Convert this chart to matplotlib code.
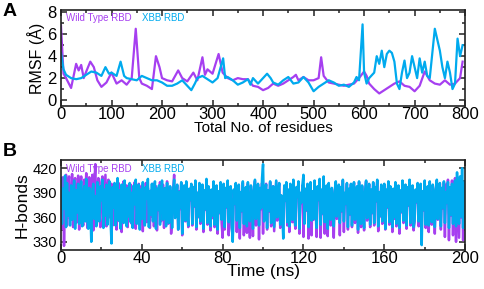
import numpy as np
import matplotlib
matplotlib.use("Agg")
import matplotlib.pyplot as plt
from matplotlib.ticker import MultipleLocator

plt.rcParams['font.family'] = ['Liberation Sans', 'DejaVu Sans']

purple = '#a63ff0'
cyan = '#00aaee'

# ---- panel A: RMSF per residue ----
res_wt = [0, 5, 10, 20, 30, 35, 40, 45, 50, 58, 65, 72, 80, 90, 100, 110, 120, 130, 140,
          148, 155, 160, 170, 180, 188, 195, 200, 210, 220, 232, 240, 250, 262, 270, 280,
          285, 290, 300, 312, 320, 330, 340, 350, 360, 370, 380, 390, 400, 410, 420, 430,
          440, 450, 460, 465, 470, 480, 490, 500, 510, 515, 520, 530, 540, 550, 560, 570,
          580, 590, 600, 605, 610, 620, 630, 640, 650, 660, 670, 680, 690, 700, 710, 720,
          730, 740, 750, 760, 770, 780, 790, 795]
rmsf_wt = [6.8, 2.4, 2.0, 1.1, 3.3, 2.7, 3.2, 2.0, 2.6, 3.5, 3.0, 1.8, 1.2, 1.6, 2.5, 1.5,
           1.8, 1.4, 2.0, 6.5, 2.0, 1.5, 1.3, 1.0, 4.0, 3.0, 2.0, 1.8, 1.7, 2.7, 2.0, 1.7,
           2.5, 1.8, 3.9, 2.3, 2.8, 2.4, 4.2, 2.5, 2.0, 1.8, 2.0, 1.9, 1.9, 1.3, 1.2, 0.9,
           1.1, 1.5, 1.3, 1.5, 1.8, 2.1, 2.3, 1.8, 2.1, 1.8, 1.8, 2.0, 3.9, 2.2, 1.6, 1.5,
           1.4, 1.3, 1.4, 1.5, 2.0, 2.6, 2.2, 1.5, 1.0, 0.6, 0.9, 1.2, 1.5, 1.7, 1.3, 1.2,
           0.8, 1.3, 2.6, 1.8, 1.5, 1.4, 1.8, 1.4, 1.5, 2.0, 3.5]

res_xbb = [0, 5, 10, 20, 30, 40, 50, 60, 70, 80, 88, 95, 100, 110, 118, 125, 130, 140, 150,
           160, 170, 180, 190, 200, 210, 220, 230, 240, 250, 258, 265, 270, 280, 290, 300,
           310, 321, 325, 330, 340, 350, 360, 370, 375, 380, 390, 400, 408, 415, 420, 430,
           440, 450, 460, 470, 480, 490, 500, 510, 520, 530, 540, 550, 560, 570, 580, 585,
           590, 597, 600, 605, 610, 620, 625, 630, 635, 640, 645, 650, 655, 660, 665, 670,
           675, 680, 685, 690, 695, 700, 705, 710, 715, 720, 725, 730, 740, 745, 750, 755,
           760, 765, 770, 775, 780, 785, 790, 795]
rmsf_xbb = [4.3, 2.8, 2.3, 2.0, 1.9, 2.0, 2.3, 2.6, 2.5, 2.2, 3.0, 2.4, 2.5, 2.2, 3.5, 2.2,
            2.0, 1.9, 1.8, 2.2, 2.0, 1.8, 1.8, 1.6, 1.3, 1.3, 1.5, 1.8, 1.3, 0.9, 1.5, 2.0,
            2.2, 1.9, 1.6, 2.0, 3.8, 2.0, 2.1, 1.8, 1.4, 1.6, 1.9, 1.4, 2.0, 1.5, 2.0, 2.4,
            2.0, 1.6, 1.4, 1.8, 2.1, 1.5, 1.6, 2.1, 1.6, 0.8, 1.2, 1.5, 1.8, 1.6, 1.3, 1.4,
            1.2, 1.6, 2.1, 1.8, 6.9, 2.5, 1.5, 2.0, 2.5, 4.0, 3.3, 4.5, 3.0, 4.2, 4.5, 4.3,
            3.5, 1.5, 1.0, 2.5, 3.6, 2.0, 2.5, 4.0, 3.0, 2.0, 3.8, 2.5, 3.5, 2.2, 2.0, 6.5,
            5.5, 4.5, 3.0, 2.0, 3.5, 2.5, 1.0, 1.5, 5.6, 4.0, 5.0]

# ---- panel B: H-bonds vs time (0.5 ns steps) ----
hb_xbb = [408, 352, 395, 371, 411, 348, 402, 362, 390, 350,
          399, 357, 384, 405, 346, 393, 366, 401, 352, 388,
          404, 349, 379, 398, 355, 407, 360, 346, 396, 374,
          330, 392, 401, 358, 386, 349, 403, 368, 355, 398,
          381, 406, 347, 394, 362, 400, 351, 389, 404, 359,
          328, 397, 372, 402, 350, 385, 408, 356, 393, 346,
          400, 367, 353, 405, 381, 349, 396, 361, 402, 354,
          390, 347, 399, 376, 406, 352, 384, 400, 345, 394,
          358, 403, 370, 350, 397, 383, 407, 348, 392, 363,
          401, 355, 387, 404, 346, 395, 369, 399, 351, 386,
          405, 357, 378, 396, 349, 402, 364, 353, 398, 380,
          347, 393, 406, 359, 385, 400, 345, 391, 372, 403,
          340, 388, 399, 356, 404, 367, 350, 395, 382, 401,
          352, 397, 374, 405, 348, 390, 361, 402, 355, 384,
          400, 346, 393, 370, 407, 353, 398, 379, 349, 394,
          362, 404, 351, 387, 399, 345, 392, 366, 403, 357,
          383, 401, 348, 396, 373, 405, 354, 389, 398, 350,
          330, 394, 377, 402, 356, 385, 400, 347, 391, 368,
          404, 352, 380, 397, 349, 403, 363, 355, 399, 386,
          346, 392, 406, 358, 384, 401, 350, 396, 371, 408,
          425, 355, 389, 400, 347, 393, 368, 404, 353, 385,
          398, 348, 376, 405, 360, 391, 402, 351, 387, 366,
          334, 399, 381, 403, 354, 394, 349, 401, 372, 357,
          406, 363, 350, 397, 385, 404, 346, 390, 378, 400,
          412, 352, 395, 369, 401, 348, 386, 403, 356, 392,
          358, 405, 374, 347, 398, 382, 407, 351, 394, 365,
          410, 354, 388, 399, 346, 402, 371, 357, 396, 380,
          349, 393, 404, 361, 386, 400, 353, 397, 368, 406,
          355, 390, 377, 402, 348, 395, 364, 401, 350, 387,
          403, 357, 383, 398, 345, 404, 370, 352, 399, 376,
          347, 392, 405, 359, 388, 401, 351, 394, 366, 403,
          353, 397, 380, 406, 349, 391, 362, 400, 355, 385,
          401, 346, 394, 373, 404, 354, 398, 381, 348, 395,
          360, 403, 352, 389, 399, 347, 393, 367, 405, 356,
          384, 400, 350, 397, 375, 406, 353, 390, 399, 348,
          357, 394, 379, 402, 355, 386, 401, 326, 392, 369,
          405, 351, 382, 398, 350, 404, 365, 354, 400, 387,
          348, 393, 406, 358, 385, 402, 349, 396, 372, 404,
          353, 391, 378, 403, 347, 397, 363, 401, 352, 386,
          405, 349, 415, 370, 352, 410, 361, 420, 347, 398,
          404]
hb_wt = [402, 346, 409, 325, 388, 412, 350, 397, 410, 358,
         374, 413, 348, 399, 408, 353, 386, 411, 345, 395,
         410, 362, 350, 406, 381, 414, 347, 392, 409, 356,
         379, 412, 344, 400, 425, 352, 391, 408, 366, 348,
         403, 410, 355, 385, 412, 349, 397, 406, 360, 378,
         401, 350, 393, 369, 398, 345, 387, 402, 355, 396,
         342, 390, 404, 361, 383, 399, 348, 394, 371, 400,
         352, 397, 376, 403, 346, 389, 365, 401, 350, 384,
         399, 343, 392, 371, 402, 354, 396, 380, 347, 393,
         361, 401, 349, 386, 398, 344, 390, 368, 403, 355,
         382, 400, 347, 395, 372, 404, 352, 388, 397, 340,
         356, 393, 412, 361, 384, 399, 345, 392, 370, 402,
         338, 389, 398, 355, 401, 366, 348, 394, 381, 400,
         350, 396, 373, 403, 345, 390, 360, 401, 352, 383,
         399, 342, 392, 369, 404, 351, 397, 378, 344, 393,
         359, 402, 348, 386, 398, 340, 391, 365, 401, 353,
         335, 400, 345, 394, 372, 403, 338, 388, 397, 347,
         336, 392, 376, 401, 342, 384, 399, 334, 390, 367,
         402, 338, 379, 396, 341, 401, 362, 335, 398, 385,
         337, 391, 404, 350, 383, 400, 333, 395, 370, 402,
         340, 397, 388, 401, 345, 392, 367, 403, 349, 384,
         398, 343, 375, 404, 356, 390, 401, 347, 386, 365,
         345, 398, 380, 402, 350, 393, 342, 400, 371, 354,
         404, 359, 346, 396, 384, 403, 340, 389, 377, 399,
         336, 392, 394, 368, 400, 334, 385, 402, 338, 391,
         357, 404, 373, 336, 397, 381, 406, 335, 393, 364,
         401, 340, 387, 398, 337, 401, 370, 350, 395, 379,
         335, 392, 403, 358, 385, 399, 338, 396, 367, 405,
         342, 389, 376, 401, 345, 394, 363, 400, 348, 386,
         402, 353, 382, 397, 341, 403, 369, 348, 398, 375,
         344, 391, 404, 356, 387, 400, 348, 393, 365, 402,
         350, 396, 379, 405, 343, 390, 361, 399, 352, 384,
         400, 345, 393, 372, 403, 351, 397, 380, 342, 394,
         358, 402, 349, 388, 398, 340, 392, 366, 404, 353,
         383, 399, 346, 396, 374, 405, 350, 389, 398, 344,
         355, 393, 378, 401, 349, 385, 400, 343, 391, 368,
         404, 347, 381, 397, 342, 403, 364, 351, 399, 386,
         340, 392, 405, 357, 384, 401, 345, 395, 371, 403,
         336, 400, 377, 406, 332, 396, 362, 405, 338, 385,
         408, 330, 402, 369, 335, 404, 360, 398, 332, 395,
         397]
time_ns = np.arange(len(hb_xbb)) * 0.5


def style_axes(ax):
    for s in ax.spines.values():
        s.set_linewidth(1.2)
        s.set_color('#222222')
    ax.tick_params(which='both', direction='in', top=True, right=True,
                   width=1.1, color='#222222', labelsize=12, pad=3)
    ax.tick_params(which='major', length=4.5)
    ax.tick_params(which='minor', length=2.5)


fig = plt.figure(figsize=(4.84, 2.89), dpi=100)

axA = fig.add_axes([0.126, 0.633, 0.835, 0.332])
axA.plot(res_wt, rmsf_wt, color=purple, lw=1.6)
axA.plot(res_xbb, rmsf_xbb, color=cyan, lw=1.6)
axA.set_xlim(0, 800)
axA.set_ylim(-0.55, 8.2)
axA.xaxis.set_major_locator(MultipleLocator(100))
axA.xaxis.set_minor_locator(MultipleLocator(50))
axA.yaxis.set_major_locator(MultipleLocator(2))
axA.yaxis.set_minor_locator(MultipleLocator(1))
style_axes(axA)
axA.tick_params(axis='x', pad=1)
axA.set_xlabel('Total No. of residues', fontsize=11, labelpad=-1)
axA.set_ylabel('RMSF (Å)', fontsize=11.5, labelpad=2)
axA.text(0.012, 0.965, 'Wild Type RBD', color=purple, fontsize=7,
         transform=axA.transAxes, va='top')
axA.text(0.2, 0.965, 'XBB RBD', color=cyan, fontsize=7,
         transform=axA.transAxes, va='top')
fig.text(0.006, 0.99, 'A', fontsize=14, fontweight='bold', va='top')

axB = fig.add_axes([0.126, 0.135, 0.835, 0.311])
axB.plot(time_ns, hb_wt, color=purple, lw=1.8)
axB.plot(time_ns, hb_xbb, color=cyan, lw=1.8)
axB.set_xlim(0, 200)
axB.set_ylim(320, 430)
axB.xaxis.set_major_locator(MultipleLocator(40))
axB.xaxis.set_minor_locator(MultipleLocator(20))
axB.yaxis.set_major_locator(MultipleLocator(30))
axB.yaxis.set_minor_locator(MultipleLocator(15))
style_axes(axB)
axB.tick_params(axis='x', pad=1)
axB.tick_params(axis='y', labelsize=10.5)
axB.set_xlabel('Time (ns)', fontsize=12.5, labelpad=-2)
axB.set_ylabel('H-bonds', fontsize=12.5, labelpad=2)
axB.text(0.012, 0.96, 'Wild Type RBD', color=purple, fontsize=7,
         transform=axB.transAxes, va='top')
axB.text(0.2, 0.96, 'XBB RBD', color=cyan, fontsize=7,
         transform=axB.transAxes, va='top')
fig.text(0.006, 0.505, 'B', fontsize=14, fontweight='bold', va='top')

fig.savefig('out.png', dpi=100)
